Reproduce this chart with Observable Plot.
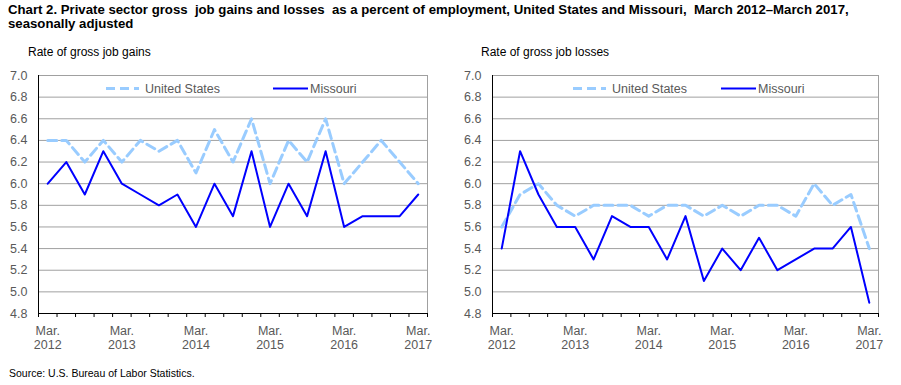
<!DOCTYPE html>
<html>
<head>
<meta charset="utf-8">
<script src="https://cdn.jsdelivr.net/npm/d3@7"></script>
<script src="https://cdn.jsdelivr.net/npm/@observablehq/plot@0.6"></script>
<style>
  html, body { margin: 0; padding: 0; background: #fff; }
  #root { position: relative; width: 901px; height: 385px; overflow: hidden; font-family: "Liberation Sans", Arial, sans-serif; }
  #title { position: absolute; left: 8px; top: 3px; font-weight: bold; font-size: 13.2px; line-height: 14px; color: #000; width: 895px; white-space: nowrap; }
  .sub { position: absolute; top: 45px; font-size: 12px; color: #000; }
  #source { position: absolute; left: 9px; top: 367px; font-size: 10.5px; color: #000; }
  .panel { position: absolute; top: 0; }
</style>
</head>
<body>
<div id="root">
  <div id="title">Chart 2. Private sector gross&nbsp; job gains and losses&nbsp; as a percent of employment, United States and Missouri,&nbsp; March 2012–March 2017,<br>seasonally adjusted</div>
  <div class="sub" style="left:28px">Rate of gross job gains</div>
  <div class="sub" style="left:481px">Rate of gross job losses</div>
  <div id="source">Source: U.S. Bureau of Labor Statistics.</div>
</div>
<script>
const quarters = ["Mar. 2012","Jun. 2012","Sep. 2012","Dec. 2012","Mar. 2013","Jun. 2013","Sep. 2013","Dec. 2013","Mar. 2014","Jun. 2014","Sep. 2014","Dec. 2014","Mar. 2015","Jun. 2015","Sep. 2015","Dec. 2015","Mar. 2016","Jun. 2016","Sep. 2016","Dec. 2016","Mar. 2017"];
const tickLabels = ["Mar.\n2012","Mar.\n2013","Mar.\n2014","Mar.\n2015","Mar.\n2016","Mar.\n2017"];
const tickQuarters = ["Mar. 2012","Mar. 2013","Mar. 2014","Mar. 2015","Mar. 2016","Mar. 2017"];
const yTicks = [4.8,5.0,5.2,5.4,5.6,5.8,6.0,6.2,6.4,6.6,6.8,7.0];
const series = ["United States","Missouri"];

const gainsUS = [6.4,6.4,6.2,6.4,6.2,6.4,6.3,6.4,6.1,6.5,6.2,6.6,6.0,6.4,6.2,6.6,6.0,6.2,6.4,6.2,6.0];
const gainsMO = [6.0,6.2,5.9,6.3,6.0,5.9,5.8,5.9,5.6,6.0,5.7,6.3,5.6,6.0,5.7,6.3,5.6,5.7,5.7,5.7,5.9];
const lossUS  = [5.6,5.9,6.0,5.8,5.7,5.8,5.8,5.8,5.7,5.8,5.8,5.7,5.8,5.7,5.8,5.8,5.7,6.0,5.8,5.9,5.4];
const lossMO  = [5.4,6.3,5.9,5.6,5.6,5.3,5.7,5.6,5.6,5.3,5.7,5.1,5.4,5.2,5.5,5.2,5.3,5.4,5.4,5.6,4.9];

const usColor = "#99ccff", moColor = "#0000ff", labColor = "#595959", gridColor = "#a0a0a0";
const font = "Liberation Sans, Arial, sans-serif";

function rows(us, mo) {
  return quarters.flatMap((q, i) => [
    {i, q, s: series[0], v: us[i]},
    {i, q, s: series[1], v: mo[i]}
  ]);
}

function panel(us, mo, opt) {
  const data = rows(us, mo);
  const idx = q => quarters.indexOf(q);
  const bounds = d3.range(quarters.length + 1).map(k => k - 0.5);
  const plot = Plot.plot({
    width: opt.width, height: 385,
    marginLeft: opt.ml, marginRight: opt.mr, marginTop: 75, marginBottom: 72,
    style: {fontFamily: font, fontSize: "12px", background: "transparent", overflow: "visible"},
    x: {type: "linear", domain: [-0.5, quarters.length - 0.5], axis: null},
    y: {type: "linear", domain: [4.8, 7.0], axis: null},
    marks: [
      Plot.ruleY(yTicks, {stroke: gridColor, strokeWidth: 1}),
      Plot.ruleX([quarters.length - 0.5], {stroke: gridColor, strokeWidth: 1}),
      Plot.lineY(data.filter(d => d.s === series[0]), {x: "i", y: "v", stroke: usColor, strokeWidth: 3, strokeDasharray: "9,5"}),
      Plot.lineY(data.filter(d => d.s === series[1]), {x: "i", y: "v", stroke: moColor, strokeWidth: 2}),
      Plot.ruleX([-0.5], {stroke: "#000", strokeWidth: 1}),
      Plot.ruleY([4.8], {stroke: "#000", strokeWidth: 1}),
      Plot.axisX(bounds, {tickSize: 4, tickFormat: () => "", label: null, stroke: "#000", strokeOpacity: 1}),
      Plot.axisY(yTicks, {tickSize: 0, tickPadding: 11, tickFormat: d => d.toFixed(1), fill: labColor, fontSize: 12.5, label: null}),
      Plot.axisX(tickQuarters.map(idx), {tickSize: 0, tickPadding: 4, tickFormat: (d, k) => tickLabels[k], fill: labColor, fontSize: 12.5, lineHeight: 1.15, dy: 7, label: null})
    ]
  });
  const svg = d3.select(plot);
  // legend
  const g = svg.append("g").attr("font-family", font).attr("font-size", 12.5).attr("fill", labColor).attr("text-anchor", "start");
  const L = opt.legend;
  g.append("line").attr("x1", L.x1).attr("x2", L.x1 + 33).attr("y1", 88.5).attr("y2", 88.5)
    .attr("stroke", usColor).attr("stroke-width", 3).attr("stroke-dasharray", "9,5");
  g.append("text").attr("x", L.x1 + 39).attr("y", 93).text(series[0]);
  g.append("line").attr("x1", L.x2).attr("x2", L.x2 + 35).attr("y1", 88.5).attr("y2", 88.5)
    .attr("stroke", moColor).attr("stroke-width", 2);
  g.append("text").attr("x", L.x2 + 37).attr("y", 93).text(series[1]);
  plot.classList.add("panel");
  plot.style.left = opt.left + "px";
  document.getElementById("root").appendChild(plot);
}

panel(gainsUS, gainsMO, {left: 0, width: 450, ml: 38, mr: 23, legend: {x1: 106, x2: 273}});
panel(lossUS, lossMO, {left: 450, width: 451, ml: 42, mr: 23, legend: {x1: 123, x2: 271}});
</script>
</body>
</html>
